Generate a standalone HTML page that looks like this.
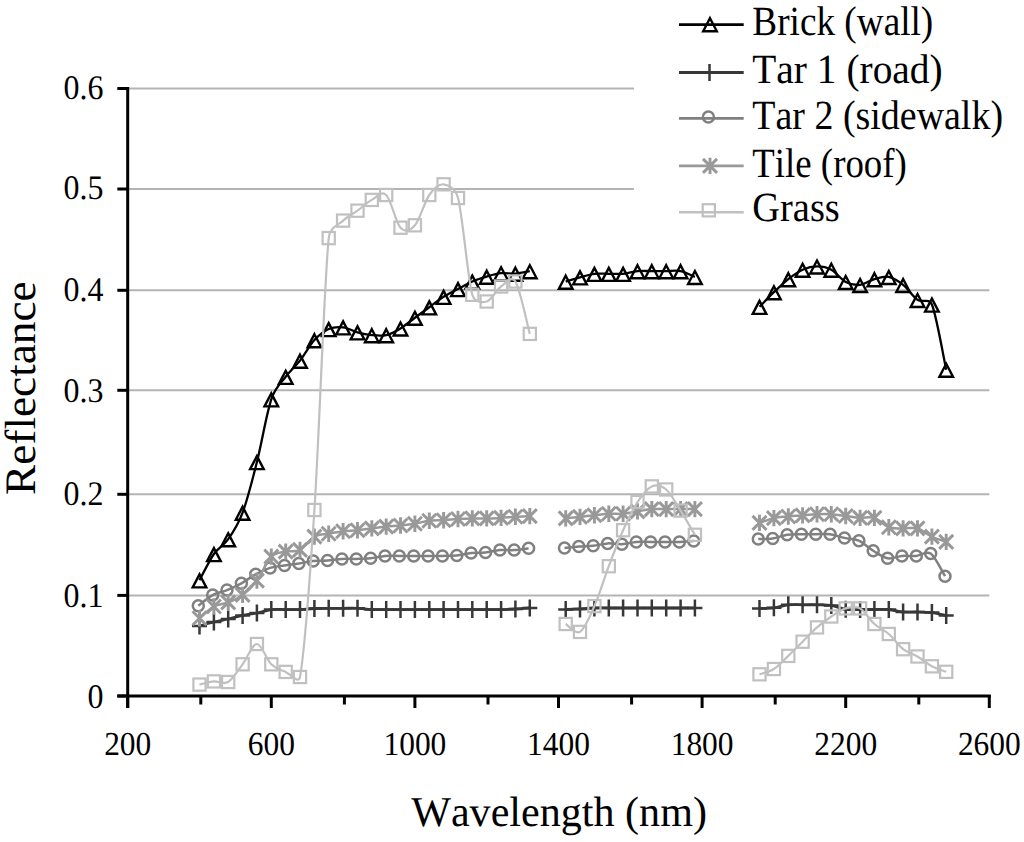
<!DOCTYPE html>
<html><head><meta charset="utf-8"><title>Reflectance chart</title>
<style>
html,body{margin:0;padding:0;background:#fff;width:1024px;height:842px;overflow:hidden}
svg{display:block}
text{font-family:"Liberation Serif",serif;fill:#000;font-variant-ligatures:none;font-feature-settings:"liga" 0,"clig" 0;font-kerning:none;text-rendering:geometricPrecision}
.tk{font-size:34.5px}
.tkx{font-size:33.5px}
.lg{font-size:41.5px}
.ti{font-size:43.5px}
.ti2{font-size:42.5px}
</style></head>
<body>
<svg width="1024" height="842" viewBox="0 0 1024 842">
<rect width="1024" height="842" fill="#fff"/>
<g stroke="#b4b4b4" stroke-width="2" fill="none"><path d="M129,88.5H634"/><path d="M129,189H634"/><path d="M129,290.3H989.3"/><path d="M129,390.3H989.3"/><path d="M129,494.3H989.3"/><path d="M129,595.4H989.3"/></g>
<g stroke="#000" stroke-width="3" fill="none">
<path d="M127.7,87V708"/><path d="M117.3,696H990.8"/><path d="M117.3,88.5H128"/><path d="M117.3,189H128"/><path d="M117.3,290.3H128"/><path d="M117.3,390.3H128"/><path d="M117.3,494.3H128"/><path d="M117.3,595.4H128"/><path d="M117.3,696H128"/><path d="M127.7,695V708"/><path d="M200.8,695V704.5"/><path d="M271.3,695V708"/><path d="M344.4,695V704.5"/><path d="M414.9,695V708"/><path d="M488,695V704.5"/><path d="M558.5,695V708"/><path d="M631.6,695V704.5"/><path d="M702.1,695V708"/><path d="M775.2,695V704.5"/><path d="M845.7,695V708"/><path d="M918.8,695V704.5"/><path d="M989.3,695V708"/></g>
<g><text class="tk" transform="translate(103.5,99) scale(0.926,1)" text-anchor="end">0.6</text><text class="tk" transform="translate(103.5,199.2) scale(0.926,1)" text-anchor="end">0.5</text><text class="tk" transform="translate(103.5,301.2) scale(0.926,1)" text-anchor="end">0.4</text><text class="tk" transform="translate(103.5,402.2) scale(0.926,1)" text-anchor="end">0.3</text><text class="tk" transform="translate(103.5,505.3) scale(0.926,1)" text-anchor="end">0.2</text><text class="tk" transform="translate(103.5,606.8) scale(0.926,1)" text-anchor="end">0.1</text><text class="tk" transform="translate(103.5,707.6) scale(0.926,1)" text-anchor="end">0</text><text class="tkx" transform="translate(127.7,755.3) scale(0.938,1)" text-anchor="middle">200</text><text class="tkx" transform="translate(271.3,755.3) scale(0.938,1)" text-anchor="middle">600</text><text class="tkx" transform="translate(414.9,755.3) scale(0.938,1)" text-anchor="middle">1000</text><text class="tkx" transform="translate(558.5,755.3) scale(0.938,1)" text-anchor="middle">1400</text><text class="tkx" transform="translate(702.1,755.3) scale(0.938,1)" text-anchor="middle">1800</text><text class="tkx" transform="translate(845.7,755.3) scale(0.938,1)" text-anchor="middle">2200</text><text class="tkx" transform="translate(989.3,755.3) scale(0.938,1)" text-anchor="middle">2600</text></g>
<text class="ti" transform="translate(34.7,494.9) rotate(-90) scale(1.04,1)">Reflectance</text>
<text class="ti2" transform="translate(411.2,826) scale(0.9905,1)">Wavelength (nm)</text>
<g fill="none" stroke="#000000" stroke-linejoin="round"><path stroke-width="2.3" d="M199.5,580.3C201.9,575.9 209.1,560.9 213.9,554C218.6,547.1 223.4,546.1 228.2,539.2C233,532.3 237.8,525.5 242.6,512.6C247.4,499.7 252.2,480.9 256.9,462C261.7,443.1 266.5,413.5 271.3,399.3C275.6,386.7 280.9,383.2 285.7,376.8C290.4,370.4 295.2,366.7 300,360.6C304.8,354.5 309.6,345.4 314.4,340.1C319.2,334.8 324,331.1 328.7,329C333.5,326.9 338.3,326.8 343.1,327.3C347.9,327.9 352.7,331 357.5,332.3C362.2,333.6 367,334.6 371.8,335.1C376.6,335.6 381.4,336.2 386.2,335.1C391,334 395.8,331.3 400.5,328.4C405.3,325.5 410.1,321.2 414.9,317.7C419.7,314.2 424.5,310.8 429.3,307.3C434,303.8 438.8,299.9 443.6,296.8C448.4,293.8 453.2,291.6 458,289C462.8,286.4 467.6,283.6 472.3,281.5C477.1,279.4 481.9,278 486.7,276.6C491.5,275.2 496.3,273.7 501.1,273.2C505.8,272.7 510.6,273.9 515.4,273.6C520.2,273.3 527.4,271.6 529.8,271.2M565.7,281.6C568.1,280.9 575.3,278.6 580,277.3C584.8,276 589.6,274.4 594.4,273.8C599.2,273.2 604,273.8 608.8,273.8C613.5,273.8 618.3,274.2 623.1,273.8C627.9,273.4 632.7,271.6 637.5,271.1C642.3,270.7 647.1,271.1 651.8,271.1C656.6,271.1 661.4,271.1 666.2,271.1C671,271.1 675.8,270.1 680.6,271.1C685.3,272.1 692.5,275.9 694.9,276.9M759.5,306.8C761.9,304.4 769.1,296.8 773.9,292.2C778.7,287.6 783.5,282.9 788.3,279.1C793,275.4 797.8,271.8 802.6,269.7C807.4,267.6 812.2,266.4 817,266.4C821.8,266.4 826.6,267.1 831.3,269.7C836.1,272.3 840.9,279.4 845.7,281.9C850.5,284.4 855.3,285.4 860.1,284.9C864.8,284.4 869.6,280.4 874.4,279.1C879.2,277.8 884,275.9 888.8,276.9C893.6,277.9 898.4,281.1 903.1,284.9C907.9,288.7 912.7,296.6 917.5,299.9C922.3,303.2 929,297.5 931.9,304.5C936.6,316.1 943.8,358.8 946.2,369.7"/><g stroke-width="2.4"><path stroke-linejoin="miter" d="M199.5,574.4L206.3,587.4L192.7,587.4Z"/><path stroke-linejoin="miter" d="M213.9,548.1L220.7,561.1L207.1,561.1Z"/><path stroke-linejoin="miter" d="M228.2,533.3L235,546.3L221.4,546.3Z"/><path stroke-linejoin="miter" d="M242.6,506.7L249.4,519.7L235.8,519.7Z"/><path stroke-linejoin="miter" d="M256.9,456.1L263.7,469.1L250.1,469.1Z"/><path stroke-linejoin="miter" d="M271.3,393.4L278.1,406.4L264.5,406.4Z"/><path stroke-linejoin="miter" d="M285.7,370.9L292.5,383.9L278.9,383.9Z"/><path stroke-linejoin="miter" d="M300,354.7L306.8,367.7L293.2,367.7Z"/><path stroke-linejoin="miter" d="M314.4,334.2L321.2,347.2L307.6,347.2Z"/><path stroke-linejoin="miter" d="M328.7,323.1L335.5,336.1L321.9,336.1Z"/><path stroke-linejoin="miter" d="M343.1,321.4L349.9,334.4L336.3,334.4Z"/><path stroke-linejoin="miter" d="M357.5,326.4L364.3,339.4L350.7,339.4Z"/><path stroke-linejoin="miter" d="M371.8,329.2L378.6,342.2L365,342.2Z"/><path stroke-linejoin="miter" d="M386.2,329.2L393,342.2L379.4,342.2Z"/><path stroke-linejoin="miter" d="M400.5,322.5L407.3,335.5L393.7,335.5Z"/><path stroke-linejoin="miter" d="M414.9,311.8L421.7,324.8L408.1,324.8Z"/><path stroke-linejoin="miter" d="M429.3,301.4L436.1,314.4L422.5,314.4Z"/><path stroke-linejoin="miter" d="M443.6,290.9L450.4,303.9L436.8,303.9Z"/><path stroke-linejoin="miter" d="M458,283.1L464.8,296.1L451.2,296.1Z"/><path stroke-linejoin="miter" d="M472.3,275.6L479.1,288.6L465.5,288.6Z"/><path stroke-linejoin="miter" d="M486.7,270.7L493.5,283.7L479.9,283.7Z"/><path stroke-linejoin="miter" d="M501.1,267.3L507.9,280.3L494.3,280.3Z"/><path stroke-linejoin="miter" d="M515.4,267.7L522.2,280.7L508.6,280.7Z"/><path stroke-linejoin="miter" d="M529.8,265.3L536.6,278.3L523,278.3Z"/><path stroke-linejoin="miter" d="M565.7,275.7L572.5,288.7L558.9,288.7Z"/><path stroke-linejoin="miter" d="M580,271.4L586.8,284.4L573.2,284.4Z"/><path stroke-linejoin="miter" d="M594.4,267.9L601.2,280.9L587.6,280.9Z"/><path stroke-linejoin="miter" d="M608.8,267.9L615.6,280.9L602,280.9Z"/><path stroke-linejoin="miter" d="M623.1,267.9L629.9,280.9L616.3,280.9Z"/><path stroke-linejoin="miter" d="M637.5,265.2L644.3,278.2L630.7,278.2Z"/><path stroke-linejoin="miter" d="M651.8,265.2L658.6,278.2L645,278.2Z"/><path stroke-linejoin="miter" d="M666.2,265.2L673,278.2L659.4,278.2Z"/><path stroke-linejoin="miter" d="M680.6,265.2L687.4,278.2L673.8,278.2Z"/><path stroke-linejoin="miter" d="M694.9,271L701.7,284L688.1,284Z"/><path stroke-linejoin="miter" d="M759.5,300.9L766.3,313.9L752.7,313.9Z"/><path stroke-linejoin="miter" d="M773.9,286.3L780.7,299.3L767.1,299.3Z"/><path stroke-linejoin="miter" d="M788.3,273.2L795.1,286.2L781.5,286.2Z"/><path stroke-linejoin="miter" d="M802.6,263.8L809.4,276.8L795.8,276.8Z"/><path stroke-linejoin="miter" d="M817,260.5L823.8,273.5L810.2,273.5Z"/><path stroke-linejoin="miter" d="M831.3,263.8L838.1,276.8L824.5,276.8Z"/><path stroke-linejoin="miter" d="M845.7,276L852.5,289L838.9,289Z"/><path stroke-linejoin="miter" d="M860.1,279L866.9,292L853.3,292Z"/><path stroke-linejoin="miter" d="M874.4,273.2L881.2,286.2L867.6,286.2Z"/><path stroke-linejoin="miter" d="M888.8,271L895.6,284L882,284Z"/><path stroke-linejoin="miter" d="M903.1,279L909.9,292L896.3,292Z"/><path stroke-linejoin="miter" d="M917.5,294L924.3,307L910.7,307Z"/><path stroke-linejoin="miter" d="M931.9,298.6L938.7,311.6L925.1,311.6Z"/><path stroke-linejoin="miter" d="M946.2,363.8L953,376.8L939.4,376.8Z"/></g></g>
<g fill="none" stroke="#383838" stroke-linejoin="round"><path stroke-width="2.8" d="M199.5,626C201.9,625.3 209.1,623.2 213.9,622C218.6,620.8 223.4,620.1 228.2,619C233,617.9 237.8,616.4 242.6,615.4C247.4,614.4 252.2,614 256.9,613C261.7,612 266.5,610.2 271.3,609.6C276.1,609 280.9,609.6 285.7,609.6C290.4,609.6 295.2,609.8 300,609.6C304.8,609.4 309.6,608.7 314.4,608.5C319.2,608.3 324,608.3 328.7,608.3C333.5,608.3 338.3,608.3 343.1,608.3C347.9,608.3 352.7,608.1 357.5,608.3C362.2,608.5 367,609.4 371.8,609.6C376.6,609.8 381.4,609.6 386.2,609.6C391,609.6 395.8,609.6 400.5,609.6C405.3,609.6 410.1,609.6 414.9,609.6C419.7,609.6 424.5,609.6 429.3,609.6C434,609.6 438.8,609.6 443.6,609.6C448.4,609.6 453.2,609.6 458,609.6C462.8,609.6 467.6,609.6 472.3,609.6C477.1,609.6 481.9,609.6 486.7,609.6C491.5,609.6 496.3,609.7 501.1,609.6C505.8,609.5 510.6,609.3 515.4,609C520.2,608.7 527.4,608.2 529.8,608M565.7,609.5C568.1,609.4 575.3,609.2 580,609C584.8,608.8 589.6,608.2 594.4,608C599.2,607.8 604,608 608.8,608C613.5,608 618.3,608 623.1,608C627.9,608 632.7,608 637.5,608C642.3,608 647.1,608 651.8,608C656.6,608 661.4,608 666.2,608C671,608 675.8,608 680.6,608C685.3,608 692.5,608 694.9,608M759.5,608.4C761.9,608.3 769.1,608.4 773.9,607.8C778.7,607.2 783.5,605.3 788.3,604.8C793,604.3 797.8,604.8 802.6,604.8C807.4,604.8 812.2,604.7 817,604.8C821.8,604.9 826.6,604.6 831.3,605.4C836.1,606.1 840.9,608.6 845.7,609.3C850.5,610 855.3,609.5 860.1,609.5C864.8,609.5 869.6,609.5 874.4,609.5C879.2,609.5 884,609.1 888.8,609.5C893.6,609.9 898.4,611.6 903.1,612C907.9,612.4 912.7,611.9 917.5,612C922.3,612.1 927.1,612 931.9,612.6C936.6,613.2 943.8,615.1 946.2,615.6"/><g stroke-width="2.5"><path d="M199.5,617.5V634.5M192,626H207"/><path d="M213.9,613.5V630.5M206.4,622H221.4"/><path d="M228.2,610.5V627.5M220.7,619H235.7"/><path d="M242.6,606.9V623.9M235.1,615.4H250.1"/><path d="M256.9,604.5V621.5M249.4,613H264.4"/><path d="M271.3,601.1V618.1M263.8,609.6H278.8"/><path d="M285.7,601.1V618.1M278.2,609.6H293.2"/><path d="M300,601.1V618.1M292.5,609.6H307.5"/><path d="M314.4,600V617M306.9,608.5H321.9"/><path d="M328.7,599.8V616.8M321.2,608.3H336.2"/><path d="M343.1,599.8V616.8M335.6,608.3H350.6"/><path d="M357.5,599.8V616.8M350,608.3H365"/><path d="M371.8,601.1V618.1M364.3,609.6H379.3"/><path d="M386.2,601.1V618.1M378.7,609.6H393.7"/><path d="M400.5,601.1V618.1M393,609.6H408"/><path d="M414.9,601.1V618.1M407.4,609.6H422.4"/><path d="M429.3,601.1V618.1M421.8,609.6H436.8"/><path d="M443.6,601.1V618.1M436.1,609.6H451.1"/><path d="M458,601.1V618.1M450.5,609.6H465.5"/><path d="M472.3,601.1V618.1M464.8,609.6H479.8"/><path d="M486.7,601.1V618.1M479.2,609.6H494.2"/><path d="M501.1,601.1V618.1M493.6,609.6H508.6"/><path d="M515.4,600.5V617.5M507.9,609H522.9"/><path d="M529.8,599.5V616.5M522.3,608H537.3"/><path d="M565.7,601V618M558.2,609.5H573.2"/><path d="M580,600.5V617.5M572.5,609H587.5"/><path d="M594.4,599.5V616.5M586.9,608H601.9"/><path d="M608.8,599.5V616.5M601.3,608H616.3"/><path d="M623.1,599.5V616.5M615.6,608H630.6"/><path d="M637.5,599.5V616.5M630,608H645"/><path d="M651.8,599.5V616.5M644.3,608H659.3"/><path d="M666.2,599.5V616.5M658.7,608H673.7"/><path d="M680.6,599.5V616.5M673.1,608H688.1"/><path d="M694.9,599.5V616.5M687.4,608H702.4"/><path d="M759.5,599.9V616.9M752,608.4H767"/><path d="M773.9,599.3V616.3M766.4,607.8H781.4"/><path d="M788.3,596.3V613.3M780.8,604.8H795.8"/><path d="M802.6,596.3V613.3M795.1,604.8H810.1"/><path d="M817,596.3V613.3M809.5,604.8H824.5"/><path d="M831.3,596.9V613.9M823.8,605.4H838.8"/><path d="M845.7,600.8V617.8M838.2,609.3H853.2"/><path d="M860.1,601V618M852.6,609.5H867.6"/><path d="M874.4,601V618M866.9,609.5H881.9"/><path d="M888.8,601V618M881.3,609.5H896.3"/><path d="M903.1,603.5V620.5M895.6,612H910.6"/><path d="M917.5,603.5V620.5M910,612H925"/><path d="M931.9,604.1V621.1M924.4,612.6H939.4"/><path d="M946.2,607.1V624.1M938.7,615.6H953.7"/></g></g>
<g fill="none" stroke="#808080" stroke-linejoin="round"><path stroke-width="2.5" d="M198.3,605.7C200.7,603.9 207.9,597.7 212.7,595.1C217.4,592.5 222.2,592.1 227,590.1C231.8,588.1 236.6,585.9 241.4,583.3C246.2,580.7 251,576.9 255.7,574.3C260.5,571.7 265.3,569.4 270.1,567.9C274.9,566.4 279.7,566.1 284.5,565.4C289.2,564.7 294,564.2 298.8,563.5C303.6,562.8 308.4,561.5 313.2,561C318,560.5 322.8,561 327.5,560.6C332.3,560.2 337.1,559.2 341.9,558.9C346.7,558.6 351.5,559 356.3,558.9C361,558.8 365.8,558.8 370.6,558.3C375.4,557.8 380.2,556.3 385,555.9C389.8,555.5 394.6,555.9 399.3,555.9C404.1,555.9 408.9,555.9 413.7,555.9C418.5,555.9 423.3,555.9 428.1,555.9C432.8,555.9 437.6,556 442.4,555.9C447.2,555.8 452,555.9 456.8,555.4C461.6,554.9 466.4,553.5 471.1,553C475.9,552.5 480.7,552.9 485.5,552.4C490.3,551.9 495.1,550.5 499.9,550.1C504.6,549.7 509.4,550.4 514.2,550.1C519,549.8 526.2,548.6 528.6,548.3M564.5,548.1C566.9,547.9 574.1,547 578.8,546.6C583.6,546.2 588.4,546.3 593.2,545.8C598,545.3 602.8,543.7 607.6,543.4C612.3,543.1 617.1,544.5 621.9,544.2C626.7,544 631.5,542.3 636.3,541.9C641.1,541.5 645.9,541.9 650.6,541.9C655.4,541.9 660.2,541.9 665,541.9C669.8,541.9 674.6,542 679.4,541.9C684.1,541.8 691.3,541.2 693.7,541.1M758.3,539C760.7,538.9 767.9,539.2 772.7,538.5C777.5,537.8 782.3,535.4 787.1,534.7C791.8,534 796.6,534.3 801.4,534.2C806.2,534.1 811,534.2 815.8,534.2C820.6,534.2 825.4,533.6 830.1,534.2C834.9,534.8 839.7,536.8 844.5,537.9C849.3,539 854.1,538.6 858.9,540.7C863.6,542.8 868.4,547.8 873.2,550.7C878,553.6 882.8,557.4 887.6,558.3C892.4,559.2 897.2,556.3 901.9,555.9C906.7,555.5 911.5,556.3 916.3,555.9C921.1,555.5 925.9,550.2 930.7,553.6C935.4,557 942.6,572.4 945,576.2"/><g stroke-width="2.5"><circle cx="198.3" cy="605.7" r="5.5"/><circle cx="212.7" cy="595.1" r="5.5"/><circle cx="227" cy="590.1" r="5.5"/><circle cx="241.4" cy="583.3" r="5.5"/><circle cx="255.7" cy="574.3" r="5.5"/><circle cx="270.1" cy="567.9" r="5.5"/><circle cx="284.5" cy="565.4" r="5.5"/><circle cx="298.8" cy="563.5" r="5.5"/><circle cx="313.2" cy="561" r="5.5"/><circle cx="327.5" cy="560.6" r="5.5"/><circle cx="341.9" cy="558.9" r="5.5"/><circle cx="356.3" cy="558.9" r="5.5"/><circle cx="370.6" cy="558.3" r="5.5"/><circle cx="385" cy="555.9" r="5.5"/><circle cx="399.3" cy="555.9" r="5.5"/><circle cx="413.7" cy="555.9" r="5.5"/><circle cx="428.1" cy="555.9" r="5.5"/><circle cx="442.4" cy="555.9" r="5.5"/><circle cx="456.8" cy="555.4" r="5.5"/><circle cx="471.1" cy="553" r="5.5"/><circle cx="485.5" cy="552.4" r="5.5"/><circle cx="499.9" cy="550.1" r="5.5"/><circle cx="514.2" cy="550.1" r="5.5"/><circle cx="528.6" cy="548.3" r="5.5"/><circle cx="564.5" cy="548.1" r="5.5"/><circle cx="578.8" cy="546.6" r="5.5"/><circle cx="593.2" cy="545.8" r="5.5"/><circle cx="607.6" cy="543.4" r="5.5"/><circle cx="621.9" cy="544.2" r="5.5"/><circle cx="636.3" cy="541.9" r="5.5"/><circle cx="650.6" cy="541.9" r="5.5"/><circle cx="665" cy="541.9" r="5.5"/><circle cx="679.4" cy="541.9" r="5.5"/><circle cx="693.7" cy="541.1" r="5.5"/><circle cx="758.3" cy="539" r="5.5"/><circle cx="772.7" cy="538.5" r="5.5"/><circle cx="787.1" cy="534.7" r="5.5"/><circle cx="801.4" cy="534.2" r="5.5"/><circle cx="815.8" cy="534.2" r="5.5"/><circle cx="830.1" cy="534.2" r="5.5"/><circle cx="844.5" cy="537.9" r="5.5"/><circle cx="858.9" cy="540.7" r="5.5"/><circle cx="873.2" cy="550.7" r="5.5"/><circle cx="887.6" cy="558.3" r="5.5"/><circle cx="901.9" cy="555.9" r="5.5"/><circle cx="916.3" cy="555.9" r="5.5"/><circle cx="930.7" cy="553.6" r="5.5"/><circle cx="945" cy="576.2" r="5.5"/></g></g>
<g fill="none" stroke="#999999" stroke-linejoin="round"><path stroke-width="2.5" d="M199.5,618.2C201.9,616.2 209.1,609.1 213.9,606.5C218.6,603.9 223.4,604.3 228.2,602.4C233,600.5 237.8,598.5 242.6,594.9C247.4,591.3 252.2,587 256.9,580.6C261.7,574.2 266.5,561.4 271.3,556.6C276.1,551.8 280.9,552.7 285.7,551.6C290.4,550.5 295.2,552.4 300,549.9C304.8,547.4 309.6,539.3 314.4,536.6C319.2,533.9 324,534.6 328.7,533.7C333.5,532.8 338.3,531.9 343.1,531.3C347.9,530.7 352.7,530.7 357.5,530.2C362.2,529.7 367,529 371.8,528.4C376.6,527.8 381.4,527.1 386.2,526.6C391,526.1 395.8,526 400.5,525.5C405.3,525 410.1,524.5 414.9,523.7C419.7,522.9 424.5,521.4 429.3,520.8C434,520.2 438.8,520.5 443.6,520.2C448.4,519.9 453.2,519.3 458,519C462.8,518.7 467.6,518.5 472.3,518.4C477.1,518.3 481.9,518.5 486.7,518.4C491.5,518.3 496.3,518.2 501.1,517.9C505.8,517.6 510.6,517 515.4,516.7C520.2,516.4 527.4,516.2 529.8,516.1M565.7,518.4C568.1,518.1 575.3,517.4 580,516.9C584.8,516.4 589.6,515.8 594.4,515.3C599.2,514.8 604,514 608.8,513.8C613.5,513.5 618.3,514.2 623.1,513.8C627.9,513.4 632.7,512.2 637.5,511.4C642.3,510.6 647.1,509.5 651.8,509.1C656.6,508.7 661.4,509.1 666.2,509.1C671,509.1 675.8,509.1 680.6,509.1C685.3,509.1 692.5,509.1 694.9,509.1M759.5,522.9C761.9,522.1 769.1,519.2 773.9,518.1C778.7,517 783.5,517 788.3,516.5C793,516 797.8,515.8 802.6,515.4C807.4,515 812.2,514.5 817,514.3C821.8,514.1 826.6,514 831.3,514.3C836.1,514.6 840.9,515.4 845.7,516C850.5,516.6 855.3,517.6 860.1,517.9C864.8,518.2 869.6,516.3 874.4,517.9C879.2,519.5 884,525.5 888.8,527.2C893.6,529 898.4,528.2 903.1,528.4C907.9,528.6 912.7,527 917.5,528.4C922.3,529.8 927.1,534.4 931.9,536.6C936.6,538.9 943.8,541 946.2,541.9"/><g stroke-width="2.9"><path d="M199.5,610V626.4M192.5,611.2L206.5,625.2M192.5,625.2L206.5,611.2"/><path d="M213.9,598.3V614.7M206.9,599.5L220.9,613.5M206.9,613.5L220.9,599.5"/><path d="M228.2,594.2V610.6M221.2,595.4L235.2,609.4M221.2,609.4L235.2,595.4"/><path d="M242.6,586.7V603.1M235.6,587.9L249.6,601.9M235.6,601.9L249.6,587.9"/><path d="M256.9,572.4V588.8M249.9,573.6L263.9,587.6M249.9,587.6L263.9,573.6"/><path d="M271.3,548.4V564.8M264.3,549.6L278.3,563.6M264.3,563.6L278.3,549.6"/><path d="M285.7,543.4V559.8M278.7,544.6L292.7,558.6M278.7,558.6L292.7,544.6"/><path d="M300,541.7V558.1M293,542.9L307,556.9M293,556.9L307,542.9"/><path d="M314.4,528.4V544.8M307.4,529.6L321.4,543.6M307.4,543.6L321.4,529.6"/><path d="M328.7,525.5V541.9M321.7,526.7L335.7,540.7M321.7,540.7L335.7,526.7"/><path d="M343.1,523.1V539.5M336.1,524.3L350.1,538.3M336.1,538.3L350.1,524.3"/><path d="M357.5,522V538.4M350.5,523.2L364.5,537.2M350.5,537.2L364.5,523.2"/><path d="M371.8,520.2V536.6M364.8,521.4L378.8,535.4M364.8,535.4L378.8,521.4"/><path d="M386.2,518.4V534.8M379.2,519.6L393.2,533.6M379.2,533.6L393.2,519.6"/><path d="M400.5,517.3V533.7M393.5,518.5L407.5,532.5M393.5,532.5L407.5,518.5"/><path d="M414.9,515.5V531.9M407.9,516.7L421.9,530.7M407.9,530.7L421.9,516.7"/><path d="M429.3,512.6V529M422.3,513.8L436.3,527.8M422.3,527.8L436.3,513.8"/><path d="M443.6,512V528.4M436.6,513.2L450.6,527.2M436.6,527.2L450.6,513.2"/><path d="M458,510.8V527.2M451,512L465,526M451,526L465,512"/><path d="M472.3,510.2V526.6M465.3,511.4L479.3,525.4M465.3,525.4L479.3,511.4"/><path d="M486.7,510.2V526.6M479.7,511.4L493.7,525.4M479.7,525.4L493.7,511.4"/><path d="M501.1,509.7V526.1M494.1,510.9L508.1,524.9M494.1,524.9L508.1,510.9"/><path d="M515.4,508.5V524.9M508.4,509.7L522.4,523.7M508.4,523.7L522.4,509.7"/><path d="M529.8,507.9V524.3M522.8,509.1L536.8,523.1M522.8,523.1L536.8,509.1"/><path d="M565.7,510.2V526.6M558.7,511.4L572.7,525.4M558.7,525.4L572.7,511.4"/><path d="M580,508.7V525.1M573,509.9L587,523.9M573,523.9L587,509.9"/><path d="M594.4,507.1V523.5M587.4,508.3L601.4,522.3M587.4,522.3L601.4,508.3"/><path d="M608.8,505.6V522M601.8,506.8L615.8,520.8M601.8,520.8L615.8,506.8"/><path d="M623.1,505.6V522M616.1,506.8L630.1,520.8M616.1,520.8L630.1,506.8"/><path d="M637.5,503.2V519.6M630.5,504.4L644.5,518.4M630.5,518.4L644.5,504.4"/><path d="M651.8,500.9V517.3M644.8,502.1L658.8,516.1M644.8,516.1L658.8,502.1"/><path d="M666.2,500.9V517.3M659.2,502.1L673.2,516.1M659.2,516.1L673.2,502.1"/><path d="M680.6,500.9V517.3M673.6,502.1L687.6,516.1M673.6,516.1L687.6,502.1"/><path d="M694.9,500.9V517.3M687.9,502.1L701.9,516.1M687.9,516.1L701.9,502.1"/><path d="M759.5,514.7V531.1M752.5,515.9L766.5,529.9M752.5,529.9L766.5,515.9"/><path d="M773.9,509.9V526.3M766.9,511.1L780.9,525.1M766.9,525.1L780.9,511.1"/><path d="M788.3,508.3V524.7M781.3,509.5L795.3,523.5M781.3,523.5L795.3,509.5"/><path d="M802.6,507.2V523.6M795.6,508.4L809.6,522.4M795.6,522.4L809.6,508.4"/><path d="M817,506.1V522.5M810,507.3L824,521.3M810,521.3L824,507.3"/><path d="M831.3,506.1V522.5M824.3,507.3L838.3,521.3M824.3,521.3L838.3,507.3"/><path d="M845.7,507.8V524.2M838.7,509L852.7,523M838.7,523L852.7,509"/><path d="M860.1,509.7V526.1M853.1,510.9L867.1,524.9M853.1,524.9L867.1,510.9"/><path d="M874.4,509.7V526.1M867.4,510.9L881.4,524.9M867.4,524.9L881.4,510.9"/><path d="M888.8,519V535.4M881.8,520.2L895.8,534.2M881.8,534.2L895.8,520.2"/><path d="M903.1,520.2V536.6M896.1,521.4L910.1,535.4M896.1,535.4L910.1,521.4"/><path d="M917.5,520.2V536.6M910.5,521.4L924.5,535.4M910.5,535.4L924.5,521.4"/><path d="M931.9,528.4V544.8M924.9,529.6L938.9,543.6M924.9,543.6L938.9,529.6"/><path d="M946.2,533.7V550.1M939.2,534.9L953.2,548.9M939.2,548.9L953.2,534.9"/></g></g>
<g fill="none" stroke="#c0c0c0" stroke-linejoin="round"><path stroke-width="2.2" d="M199.5,684.6C201.9,684.1 209.1,681.8 213.9,681.4C218.6,681 223.4,684.9 228.2,682C233,679.1 237.8,670.6 242.6,664.3C247.4,658 252.2,644 256.9,644C261.7,644 266.5,659.6 271.3,664.3C276.1,668.9 280.9,669.8 285.7,671.9C290.4,674 298.7,684.5 300,677C304.8,650 309.6,583.1 314.4,510C319.2,436.9 324,286.3 328.7,238.1C329.9,226.8 338.3,225.2 343.1,220.6C347.9,216 352.7,214.1 357.5,210.7C362.2,207.2 367,202.5 371.8,199.9C376.6,197.3 381.4,190.4 386.2,195C391,199.6 395.8,222.6 400.5,227.7C405.3,232.8 410.1,230.8 414.9,225.3C419.7,219.9 424.5,201.8 429.3,195C434,188.2 438.8,183.8 443.6,184.3C448.4,184.8 455.5,188.4 458,198C462.8,216.4 467.6,277.6 472.3,294.8C474.5,302.4 481.9,302.9 486.7,301.5C491.5,300.1 496.3,289.8 501.1,286.5C505.8,283.2 511.5,275 515.4,281.5C520.2,289.4 527.4,325.2 529.8,333.9M565.7,624C568.1,625.3 575.3,634.9 580,631.9C584.8,628.9 589.6,617 594.4,606.1C599.2,595.2 604,578.9 608.8,566.2C613.5,553.6 618.3,540.9 623.1,530.2C627.9,519.5 632.7,509.3 637.5,502C642.3,494.7 647.1,488.5 651.8,486.4C656.6,484.3 661.4,485.5 666.2,489.5C671,493.5 675.8,503.1 680.6,510.6C685.3,518.1 692.5,530.8 694.9,534.8M759.5,674.3C761.9,673.4 769.1,672.1 773.9,669C778.7,665.9 783.5,660.4 788.3,655.9C793,651.4 797.8,646.5 802.6,641.7C807.4,637 812.2,631.6 817,627.4C821.8,623.2 826.6,619.7 831.3,616.5C836.1,613.3 840.9,609.8 845.7,608.4C850.5,607 855.3,605.8 860.1,608.4C864.8,611 869.6,619.7 874.4,624C879.2,628.3 884,629.8 888.8,634C893.6,638.2 898.4,645.5 903.1,649.2C907.9,653 912.7,653.6 917.5,656.5C922.3,659.4 927.1,663.8 931.9,666.3C936.6,668.8 943.8,670.9 946.2,671.8"/><g stroke-width="2.2"><rect stroke-linejoin="miter" x="193.4" y="678.5" width="12.2" height="12.2"/><rect stroke-linejoin="miter" x="207.8" y="675.3" width="12.2" height="12.2"/><rect stroke-linejoin="miter" x="222.1" y="675.9" width="12.2" height="12.2"/><rect stroke-linejoin="miter" x="236.5" y="658.2" width="12.2" height="12.2"/><rect stroke-linejoin="miter" x="250.8" y="637.9" width="12.2" height="12.2"/><rect stroke-linejoin="miter" x="265.2" y="658.2" width="12.2" height="12.2"/><rect stroke-linejoin="miter" x="279.6" y="665.8" width="12.2" height="12.2"/><rect stroke-linejoin="miter" x="293.9" y="670.9" width="12.2" height="12.2"/><rect stroke-linejoin="miter" x="308.3" y="503.9" width="12.2" height="12.2"/><rect stroke-linejoin="miter" x="322.6" y="232" width="12.2" height="12.2"/><rect stroke-linejoin="miter" x="337" y="214.5" width="12.2" height="12.2"/><rect stroke-linejoin="miter" x="351.4" y="204.6" width="12.2" height="12.2"/><rect stroke-linejoin="miter" x="365.7" y="193.8" width="12.2" height="12.2"/><rect stroke-linejoin="miter" x="380.1" y="188.9" width="12.2" height="12.2"/><rect stroke-linejoin="miter" x="394.4" y="221.6" width="12.2" height="12.2"/><rect stroke-linejoin="miter" x="408.8" y="219.2" width="12.2" height="12.2"/><rect stroke-linejoin="miter" x="423.2" y="188.9" width="12.2" height="12.2"/><rect stroke-linejoin="miter" x="437.5" y="178.2" width="12.2" height="12.2"/><rect stroke-linejoin="miter" x="451.9" y="191.9" width="12.2" height="12.2"/><rect stroke-linejoin="miter" x="466.2" y="288.7" width="12.2" height="12.2"/><rect stroke-linejoin="miter" x="480.6" y="295.4" width="12.2" height="12.2"/><rect stroke-linejoin="miter" x="495" y="280.4" width="12.2" height="12.2"/><rect stroke-linejoin="miter" x="509.3" y="275.4" width="12.2" height="12.2"/><rect stroke-linejoin="miter" x="523.7" y="327.8" width="12.2" height="12.2"/><rect stroke-linejoin="miter" x="559.6" y="617.9" width="12.2" height="12.2"/><rect stroke-linejoin="miter" x="573.9" y="625.8" width="12.2" height="12.2"/><rect stroke-linejoin="miter" x="588.3" y="600" width="12.2" height="12.2"/><rect stroke-linejoin="miter" x="602.7" y="560.1" width="12.2" height="12.2"/><rect stroke-linejoin="miter" x="617" y="524.1" width="12.2" height="12.2"/><rect stroke-linejoin="miter" x="631.4" y="495.9" width="12.2" height="12.2"/><rect stroke-linejoin="miter" x="645.7" y="480.3" width="12.2" height="12.2"/><rect stroke-linejoin="miter" x="660.1" y="483.4" width="12.2" height="12.2"/><rect stroke-linejoin="miter" x="674.5" y="504.5" width="12.2" height="12.2"/><rect stroke-linejoin="miter" x="688.8" y="528.7" width="12.2" height="12.2"/><rect stroke-linejoin="miter" x="753.4" y="668.2" width="12.2" height="12.2"/><rect stroke-linejoin="miter" x="767.8" y="662.9" width="12.2" height="12.2"/><rect stroke-linejoin="miter" x="782.2" y="649.8" width="12.2" height="12.2"/><rect stroke-linejoin="miter" x="796.5" y="635.6" width="12.2" height="12.2"/><rect stroke-linejoin="miter" x="810.9" y="621.3" width="12.2" height="12.2"/><rect stroke-linejoin="miter" x="825.2" y="610.4" width="12.2" height="12.2"/><rect stroke-linejoin="miter" x="839.6" y="602.3" width="12.2" height="12.2"/><rect stroke-linejoin="miter" x="854" y="602.3" width="12.2" height="12.2"/><rect stroke-linejoin="miter" x="868.3" y="617.9" width="12.2" height="12.2"/><rect stroke-linejoin="miter" x="882.7" y="627.9" width="12.2" height="12.2"/><rect stroke-linejoin="miter" x="897" y="643.1" width="12.2" height="12.2"/><rect stroke-linejoin="miter" x="911.4" y="650.4" width="12.2" height="12.2"/><rect stroke-linejoin="miter" x="925.8" y="660.2" width="12.2" height="12.2"/><rect stroke-linejoin="miter" x="940.1" y="665.7" width="12.2" height="12.2"/></g></g>
<rect x="634" y="0" width="390" height="228" fill="#fff"/>
<g fill="none" stroke="#000000"><path stroke-width="2.9" d="M679,24.6H743.7"/><g stroke-width="2.4"><path stroke-linejoin="miter" d="M710,18.2L716.8,31.2L703.2,31.2Z"/></g></g>
<text transform="translate(752.3,35.3) scale(0.8973,1)" class="lg">Brick (wall)</text>
<g fill="none" stroke="#383838"><path stroke-width="3.0" d="M679,72.4H743.7"/><g stroke-width="2.5"><path d="M709.5,63.9V80.9M702,72.4H717"/></g></g>
<text transform="translate(752.3,82.9) scale(0.9497,1)" class="lg">Tar 1 (road)</text>
<g fill="none" stroke="#808080"><path stroke-width="2.7" d="M679,118.3H743.7"/><g stroke-width="2.5"><circle cx="708.4" cy="117.1" r="5.5"/></g></g>
<text transform="translate(752.3,129.2) scale(0.9142,1)" class="lg">Tar 2 (sidewalk)</text>
<g fill="none" stroke="#999999"><path stroke-width="2.7" d="M679,165.9H743.7"/><g stroke-width="2.9"><path d="M710,157.7V174.1M703,158.9L717,172.9M703,172.9L717,158.9"/></g></g>
<text transform="translate(752.3,176.6) scale(0.8881,1)" class="lg">Tile (roof)</text>
<g fill="none" stroke="#c0c0c0"><path stroke-width="2.4" d="M679,212.3H743.7"/><g stroke-width="2.2"><rect stroke-linejoin="miter" x="702.7" y="204.2" width="12.2" height="12.2"/></g></g>
<text transform="translate(752.3,220.9) scale(0.9261,1)" class="lg">Grass</text>
</svg>
</body></html>
